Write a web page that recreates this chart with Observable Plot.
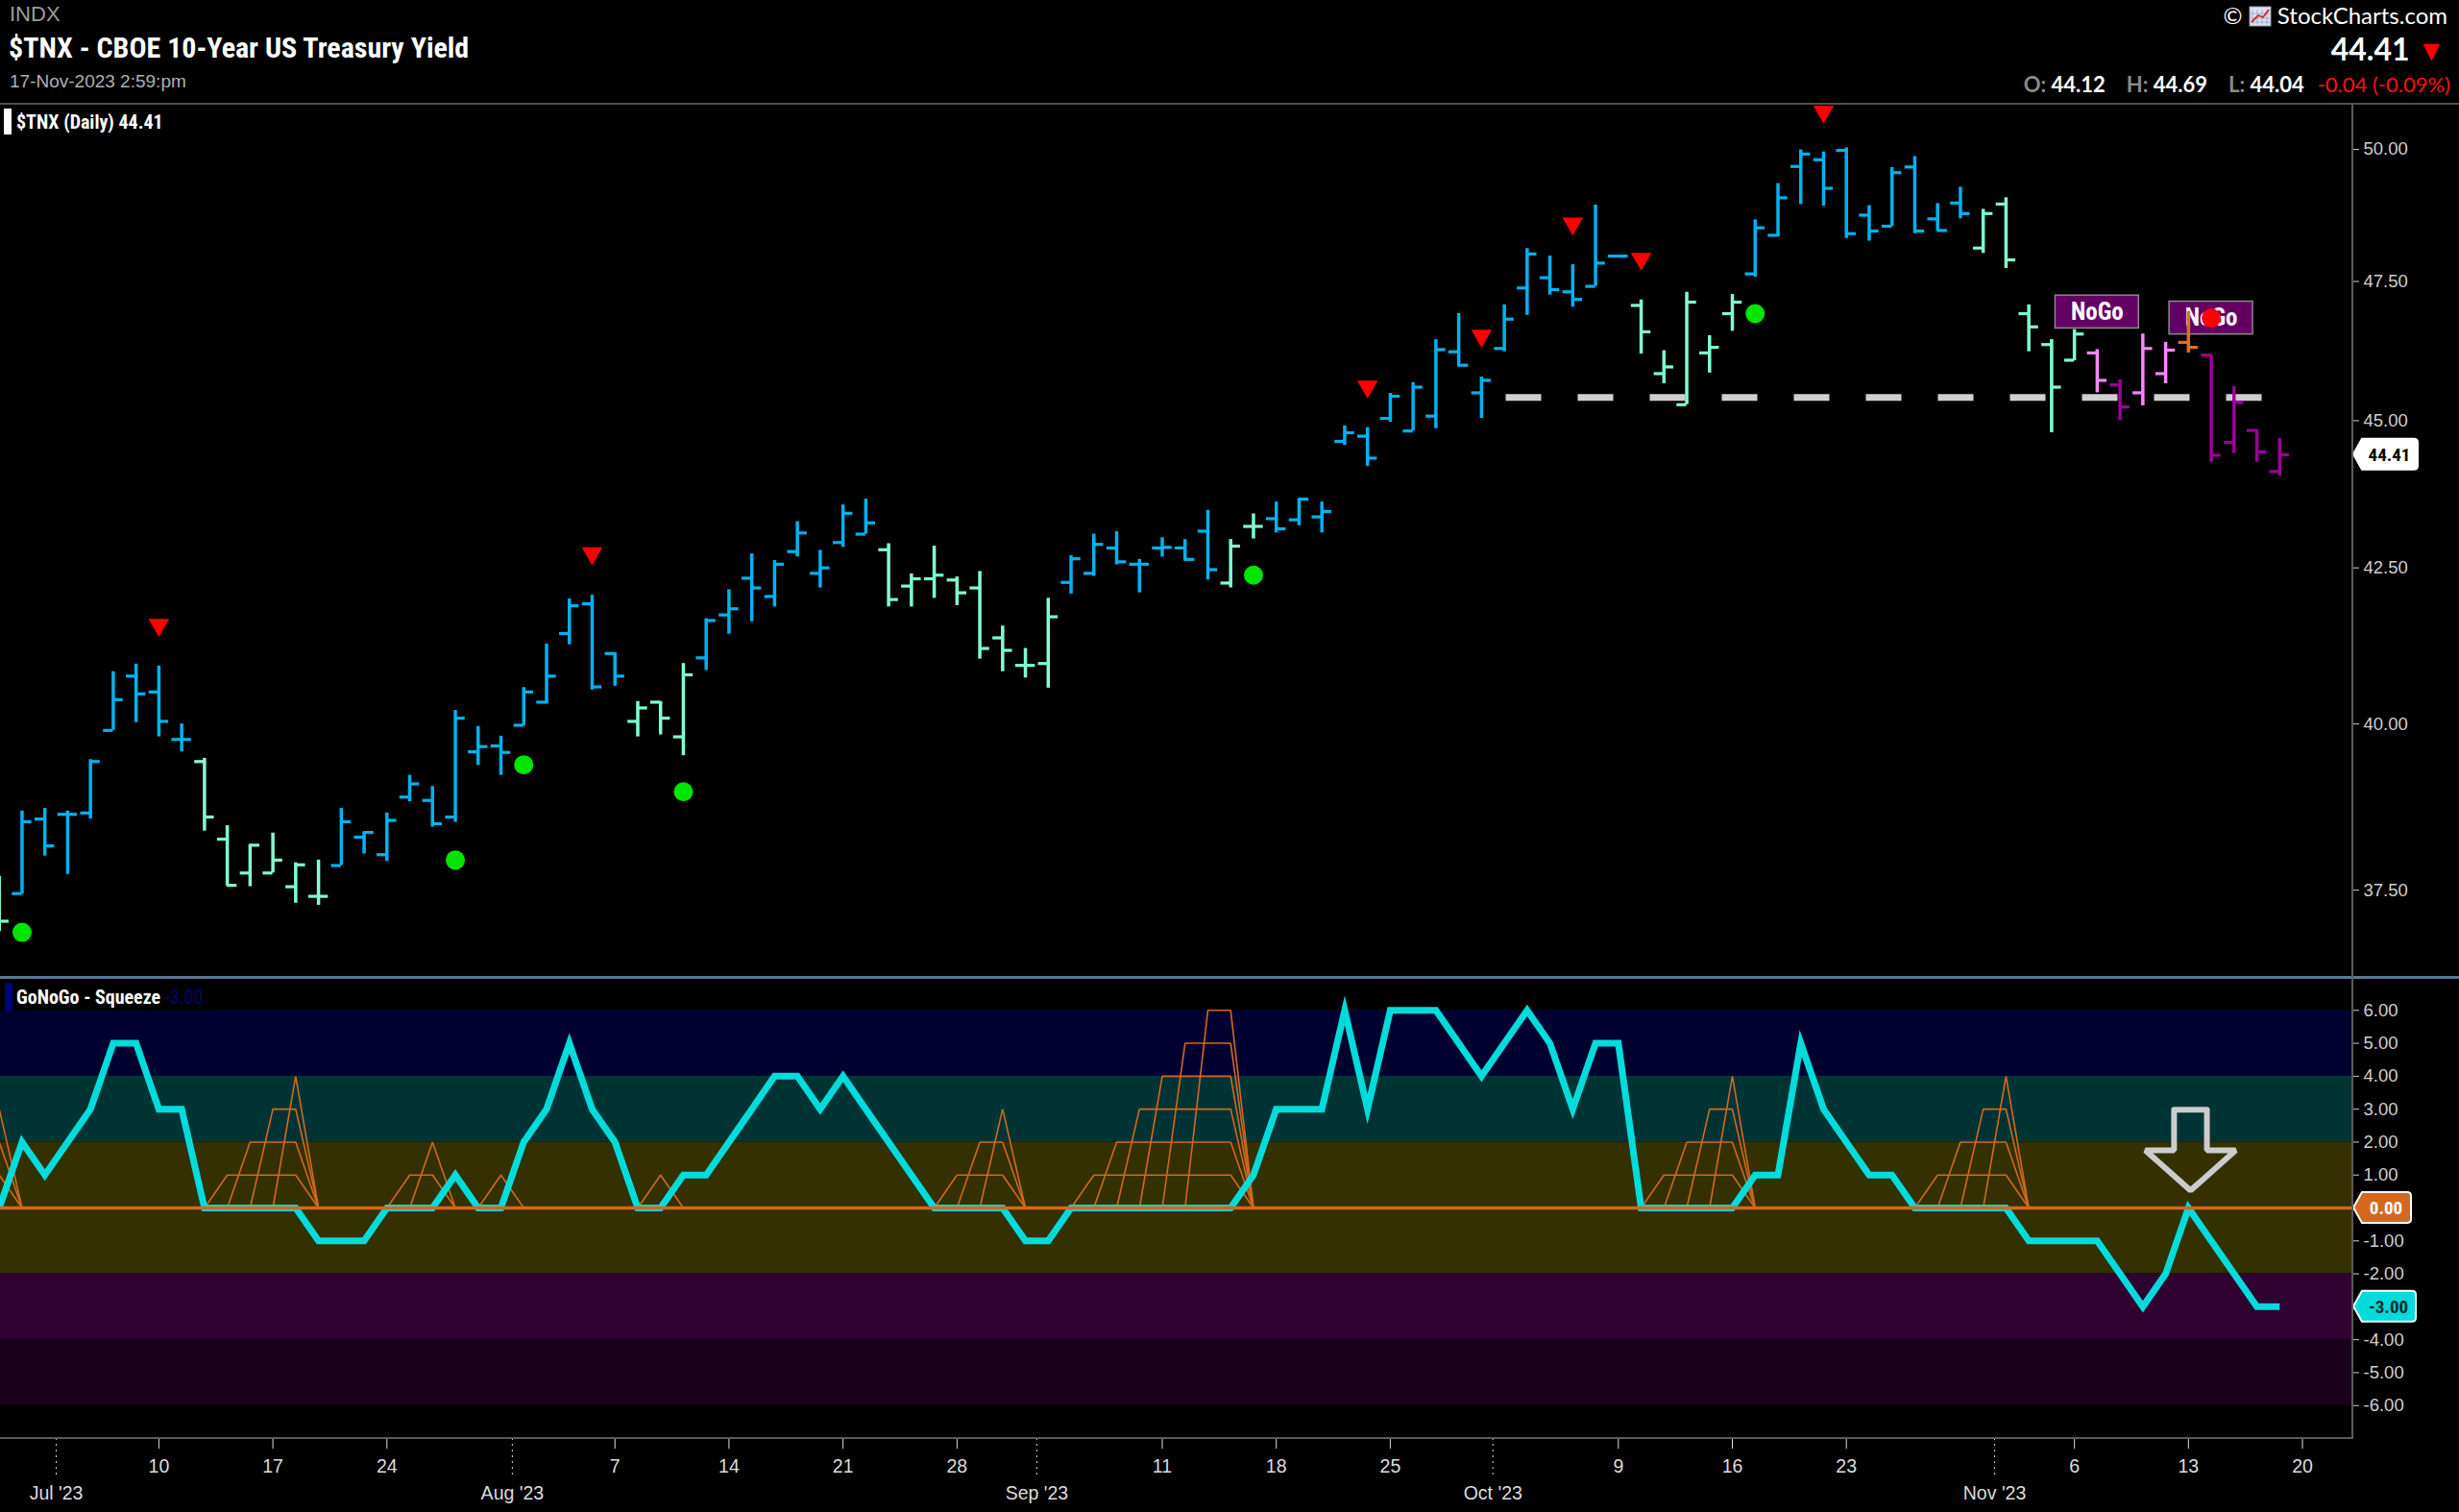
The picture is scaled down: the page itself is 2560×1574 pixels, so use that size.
<!DOCTYPE html>
<html><head><meta charset="utf-8">
<script src="https://cdn.jsdelivr.net/npm/d3@7"></script>
<script src="https://cdn.jsdelivr.net/npm/@observablehq/plot@0.6"></script>
<style>
html,body{margin:0;padding:0;background:#000;}
#wrap{position:relative;width:2560px;height:1574px;overflow:hidden;background:#000;font-family:"Liberation Sans",Arial,sans-serif;}
.abs{position:absolute;white-space:nowrap;line-height:1;}
.narrow{font-family:"Liberation Sans Narrow","Roboto Condensed","DejaVu Sans Condensed","Liberation Sans",sans-serif;}
.lato{font-family:Lato,"Liberation Sans",sans-serif;}
#price,#squeeze{position:absolute;left:0;}
#price{top:108px;} #squeeze{top:1017px;}
svg{display:block;}
.grp{margin-left:22px;}
.lbl{color:#8a8a8a;}
</style>
</head><body>
<div id="wrap">
  <div class="abs" style="left:10px;top:4px;font-size:22px;color:#9c9c9c;">INDX</div>
  <div class="abs narrow" style="left:9px;top:35px;font-size:30px;font-weight:bold;color:#fff;">$TNX - CBOE 10-Year US Treasury Yield</div>
  <div class="abs" style="left:10px;top:75px;font-size:19px;color:#b0b0b0;">17-Nov-2023 2:59:pm</div>
  <div class="abs lato" style="right:12px;top:4px;font-size:24px;color:#fff;">©&nbsp;<svg width="24" height="22" style="display:inline-block;vertical-align:-3px" viewBox="0 0 24 22"><rect x="1" y="1" width="22" height="20" fill="#dfe3ee" stroke="#8899bb"/><path d="M4 4V19M9 4V19M14 4V19M19 4V19M2 8H22M2 13H22M2 17H22" stroke="#8fa3c7" stroke-width="0.8"/><path d="M3 17 L10 10 L15 12 L21 4" stroke="#d22" stroke-width="1.8" fill="none"/></svg>&nbsp;StockCharts.com</div>
  <div class="abs lato" style="right:14px;top:35px;font-size:32px;font-weight:bold;color:#fff;">44.41 <span style="color:#ff0000;font-size:30px;">▼</span></div>
  <div class="abs lato" style="right:9px;top:77px;font-size:22px;font-weight:bold;color:#fff;">
    <span class="lbl">O:</span> 44.12<span class="grp lbl">H:</span> 44.69<span class="grp lbl">L:</span> 44.04<span class="grp" style="color:#ff1010;font-weight:normal;margin-left:14px">-0.04 (-0.09%)</span>
  </div>
  <div id="price"></div>
  <div id="squeeze"></div>
  <div class="abs" style="left:0;top:107px;width:2560px;height:2px;background:#4e4e4e;"></div>
  <div class="abs" style="left:0;top:1016px;width:2560px;height:3px;background:#5a7896;"></div>
  <div class="abs" style="left:0;top:1496px;width:2449px;height:2px;background:#5a5a5a;"></div>
  <div class="abs" style="left:2448px;top:108px;width:2px;height:1390px;background:#5a5a5a;"></div>
  <div class="abs" style="left:4px;top:113px;width:8px;height:27px;background:#fff;"></div>
  <div class="abs narrow" style="left:17px;top:117px;font-size:20px;font-weight:bold;color:#fff;">$TNX (Daily) 44.41</div>
  <div class="abs" style="left:0;top:1019px;width:218px;height:33px;background:#000;"></div>
  <div class="abs" style="left:5px;top:1023px;width:8px;height:29px;background:#00007a;"></div>
  <div class="abs narrow" style="left:17px;top:1028px;font-size:20px;color:#fff;"><b>GoNoGo - Squeeze</b> <span style="color:#00007a">-3.00</span></div>
</div>
<script>
// ---------- DATA ----------
const dates = [
 "Jun 28","Jun 29","Jun 30","Jul 3","Jul 5","Jul 6","Jul 7",
 "Jul 10","Jul 11","Jul 12","Jul 13","Jul 14","Jul 17","Jul 18","Jul 19","Jul 20","Jul 21",
 "Jul 24","Jul 25","Jul 26","Jul 27","Jul 28","Jul 31","Aug 1","Aug 2","Aug 3","Aug 4",
 "Aug 7","Aug 8","Aug 9","Aug 10","Aug 11","Aug 14","Aug 15","Aug 16","Aug 17","Aug 18",
 "Aug 21","Aug 22","Aug 23","Aug 24","Aug 25","Aug 28","Aug 29","Aug 30","Aug 31","Sep 1",
 "Sep 5","Sep 6","Sep 7","Sep 8","Sep 11","Sep 12","Sep 13","Sep 14","Sep 15","Sep 18",
 "Sep 19","Sep 20","Sep 21","Sep 22","Sep 25","Sep 26","Sep 27","Sep 28","Sep 29","Oct 2",
 "Oct 3","Oct 4","Oct 5","Oct 6","Oct 9","Oct 10","Oct 11","Oct 12","Oct 13","Oct 16",
 "Oct 17","Oct 18","Oct 19","Oct 20","Oct 23","Oct 24","Oct 25","Oct 26","Oct 27","Oct 30",
 "Oct 31","Nov 1","Nov 2","Nov 3","Nov 6","Nov 7","Nov 8","Nov 9","Nov 10","Nov 13",
 "Nov 14","Nov 15","Nov 16","Nov 17"];
const opens = [
 37.50,37.45,38.55,38.62,38.64,39.90,40.75,
 40.50,39.76,39.42,38.25,37.75,37.75,37.55,37.41,37.86,38.28,
 38.02,38.88,38.83,38.58,39.57,39.66,39.98,40.34,41.43,41.91,
 41.11,40.04,40.34,39.80,41.04,41.73,42.33,42.03,42.77,42.41,
 42.92,43.06,42.80,42.20,42.32,42.30,42.17,41.36,40.92,40.95,
 42.26,42.41,42.83,42.56,42.83,42.83,43.11,42.25,43.19,43.32,
 43.30,43.35,44.64,44.73,45.04,44.82,45.08,46.22,45.49,46.28,
 47.38,47.57,47.31,47.41,47.97,47.06,45.83,45.28,46.20,46.91,
 47.64,48.36,49.67,49.80,49.98,48.74,48.53,49.66,48.67,48.97,
 48.12,48.95,46.91,46.35,46.07,46.20,45.63,45.49,45.83,46.39,
 46.16,44.62,44.83,44.12];
const highs = [
 37.70,38.67,38.71,38.67,39.45,40.82,40.94,
 40.91,40.00,39.47,38.45,38.17,38.34,37.90,37.94,38.71,38.36,
 38.64,39.21,39.04,40.21,39.96,39.81,40.57,41.26,41.99,42.05,
 41.12,40.35,40.35,40.95,41.67,42.14,42.73,42.62,43.27,42.79,
 43.55,43.65,42.90,42.40,42.86,42.35,42.44,41.55,41.19,42.00,
 42.70,43.06,43.10,42.64,43.00,42.97,43.46,42.97,43.40,43.60,
 43.66,43.60,44.91,44.88,45.48,45.67,46.44,46.91,45.77,47.07,
 48.11,47.97,47.81,48.93,47.97,47.16,46.24,47.30,46.51,47.26,
 48.65,49.34,49.99,49.95,50.03,48.92,49.65,49.86,48.96,49.27,
 48.85,49.07,47.07,46.44,46.62,46.26,45.72,46.54,46.39,46.95,
 46.17,45.60,44.84,44.69];
const lows = [
 36.90,37.44,38.00,37.73,38.55,39.90,40.02,
 39.80,39.57,38.37,37.56,37.55,37.75,37.31,37.28,37.86,38.03,
 37.92,38.81,38.43,38.50,39.36,39.21,39.97,40.31,41.25,40.53,
 40.59,39.80,39.83,39.51,40.84,41.42,41.62,41.86,42.68,42.17,
 42.84,43.06,41.86,41.86,42.00,41.88,41.02,40.82,40.72,40.56,
 42.07,42.36,42.55,42.09,42.68,42.61,42.30,42.17,42.98,43.08,
 43.20,43.08,44.57,44.21,44.97,44.82,44.86,45.95,45.04,46.22,
 46.88,47.25,47.03,47.41,47.97,46.18,45.65,45.28,45.84,46.59,
 47.58,48.33,48.94,48.91,48.30,48.25,48.52,48.39,48.44,48.67,
 48.02,47.74,46.22,44.79,46.06,45.49,45.00,45.26,45.65,46.20,
 44.28,44.43,44.28,44.04];
const closes = [
 37.05,38.51,38.15,38.62,39.42,40.38,40.47,
 40.04,39.76,38.58,37.57,38.16,37.94,37.87,37.41,38.51,38.35,
 38.53,39.08,38.48,40.09,39.65,39.56,40.50,40.75,41.88,40.58,
 40.75,40.25,40.09,40.77,41.64,41.83,42.17,42.56,43.08,42.50,
 43.41,43.25,41.98,42.32,42.38,42.09,41.19,41.16,40.92,41.70,
 42.65,42.89,42.60,42.56,42.84,42.64,42.47,42.86,43.19,43.15,
 43.65,43.44,44.79,44.35,45.43,45.59,46.26,45.98,45.71,46.81,
 48.01,47.35,47.17,47.84,47.97,46.58,45.95,47.12,46.30,47.12,
 48.50,49.07,49.91,49.25,48.39,48.44,49.55,48.44,48.45,48.77,
 48.77,47.90,46.67,45.59,46.54,45.71,45.24,46.28,46.25,46.30,
 44.40,45.32,44.46,44.41];
// G = Go (strong), g = weak Go, n = weak NoGo, N = NoGo, A = amber
const states = ("gGGGGGG"+"GGggggggGG"+"GGGGGGGGGG"+"GgggGGGGGG"+"GGgggggggg"+
  "GGGGGGGggG"+"GGGGGGGGGG"+"GGGGGggggg"+"GGGGGGGGGG"+"gggggnNnnA"+"NNNN").split("");
const oscillator = [
 0,2,1,2,3,5,5,
 3,3,0,0,0,0,0,-1,-1,-1,
 0,0,0,1,0,0,2,3,5,3,
 2,0,0,1,1,2,3,4,4,3,
 4,3,2,1,0,0,0,0,-1,-1,
 0,0,0,0,0,0,0,0,1,3,
 3,3,6,3,6,6,6,5,4,5,
 6,5,3,5,5,0,0,0,0,0,
 1,1,5,3,2,1,1,0,0,0,
 0,0,-1,-1,-1,-1,-2,-3,-2,0,
 -1,-2,-3,-3];
// squeeze episodes: [first zero day, last zero day] (day index)
const squeezeEpisodes = [[-3,0],[9,13],[17,19],[21,22],[28,29],[41,44],[47,54],[72,76],[84,88]];
const goDotDay = [1,20,23,30,55,77];
const goDotVal = [36.89,37.94,39.37,38.96,42.38,46.91];
const triDay = [7,26,60,65,69,72,80];
const triVal = [41.57,42.74,45.60,46.51,48.58,47.92,50.74];
const redDotDay = [97];
const redDotVal = [46.83];
const nogoDay = [92,97];
const nogoVal = [46.94,46.83];
const supportLevel = 45.41, supportFrom = 66.08, supportTo = 99.3;
const priceTicks = [37.5,40,42.5,45,47.5,50];
const squeezeTicks = [-6,-5,-4,-3,-2,-1,0,1,2,3,4,5,6];
const dayTicks = [7,12,17,27,32,37,42,51,56,61,71,76,81,91,96,101];
const dayLabels = ["10","17","24","7","14","21","28","11","18","25","9","16","23","6","13","20"];
const monthTicks = [2.5,22.5,45.5,65.5,87.5];
const monthLabels = ["Jul '23","Aug '23","Sep '23","Oct '23","Nov '23"];
const bandLo = [4,2,-2,-4,-6];
const bandHi = [6,4,2,-2,-4];
const bandColor = ["#000030","#003434","#343000","#300030","#1a001a"];
const lastClose = 44.41, lastOsc = -3;

// ---------- BUILD ----------
const stateColor = {G:"#00b2f0", g:"#80ffd2", n:"#ff84ff", N:"#9c009c", A:"#e0701e"};
const xDomain = [0.054, 103.21];
const narrow = "Liberation Sans Narrow, Roboto Condensed, DejaVu Sans Condensed, Liberation Sans, sans-serif";
const bars = dates.map((d,i)=>({i, date:d, open:opens[i], high:highs[i], low:lows[i], close:closes[i], c:stateColor[states[i]]}));
const goDots = goDotDay.map((d,k)=>({i:d, p:goDotVal[k]}));
const tris = triDay.map((d,k)=>({i:d, p:triVal[k]}));
const redDots = redDotDay.map((d,k)=>({i:d, p:redDotVal[k]}));
const nogo = nogoDay.map((d,k)=>({i:d, p:nogoVal[k]}));

const price = Plot.plot({
  width:2560, height:909, marginLeft:0, marginRight:111, marginTop:0, marginBottom:0,
  style:{background:"#000", color:"#d0d0d0", fontFamily:"Liberation Sans, Arial, sans-serif", overflow:"visible"},
  x:{domain:xDomain, axis:null},
  y:{type:"log", domain:[36.25,50.885], axis:null},
  color:{type:"identity"},
  marks:[
    Plot.axisY({anchor:"right", ticks:priceTicks, tickFormat:d=>d.toFixed(2), tickSize:6, tickPadding:5, fontSize:18.5, color:"#cfcfcf"}),
    Plot.ruleY([supportLevel], {x1:supportFrom, x2:supportTo, stroke:"#cfcfcf", strokeWidth:7, strokeDasharray:"37 38"}),
    Plot.rect(nogo, {x1:d=>d.i-1.83, x2:d=>d.i+1.83, y1:d=>d.p/1.0064, y2:d=>d.p*1.0064, fill:"#640064", stroke:"#8a8a8a", strokeWidth:1.5}),
    Plot.text(nogo, {x:"i", y:"p", text:()=> "NoGo", fill:"#fff", fontWeight:"bold", fontSize:25, fontFamily:narrow}),
    Plot.ruleX(bars, {x:"i", y1:"low", y2:"high", stroke:"c", strokeWidth:3.5}),
    Plot.ruleY(bars, {y:"open", x1:d=>d.i-0.43, x2:"i", stroke:"c", strokeWidth:3.2}),
    Plot.ruleY(bars, {y:"close", x1:"i", x2:d=>d.i+0.43, stroke:"c", strokeWidth:3.2}),
    Plot.dot(tris, {x:"i", y:"p", symbol:"triangle", r:8, rotate:180, fill:"#ff0000", stroke:"none"}),
    Plot.dot(goDots, {x:"i", y:"p", r:10, fill:"#00e400", stroke:"none"}),
    Plot.dot(redDots, {x:"i", y:"p", r:10, fill:"#ff0000", stroke:"none"})
  ]
});
document.getElementById("price").appendChild(price);

// squeeze grid lines
const gridLines = [];
squeezeEpisodes.forEach(([s,e],n)=>{
  const L = Math.min(e - s, 6);
  for (let k=1;k<=L;k++){
    const key = n+"-"+k;
    gridLines.push({key,x:s+k-1,y:0},{key,x:s+k,y:k},{key,x:e,y:k},{key,x:e+1,y:0});
  }
});
const osc = oscillator.map((v,i)=>({i, v}));
const bands = bandLo.map((lo,k)=>({lo, hi:bandHi[k], c:bandColor[k]}));
const arrowAnchor = {i:96.09, v:0};
const arrowShape = [[-0.72,2.98],[0.72,2.98],[0.72,1.75],[1.98,1.75],[0,0.53],[-1.98,1.75],[-0.72,1.75],[-0.72,2.98],[0.72,2.98]];
const arrow = arrowShape.map(([dx,dy])=>({x:arrowAnchor.i+dx, y:arrowAnchor.v+dy}));
// axis labels hidden under the value tags (0 and last value)
const squeezeLabel = d => (d === 0 || d === lastOsc) ? "" : d.toFixed(2);

const squeeze = Plot.plot({
  width:2560, height:557, marginLeft:0, marginRight:111, marginTop:0, marginBottom:77,
  style:{background:"#000", color:"#d0d0d0", fontFamily:"Liberation Sans, Arial, sans-serif", overflow:"visible"},
  x:{domain:xDomain, axis:null},
  y:{domain:[-7,7], axis:null},
  color:{type:"identity"},
  marks:[
    Plot.rect(bands, {x1:xDomain[0], x2:xDomain[1], y1:"lo", y2:"hi", fill:"c"}),
    Plot.line(gridLines, {x:"x", y:"y", z:"key", stroke:"#d2691e", strokeWidth:1.6, strokeLinejoin:"miter"}),
    Plot.line(osc, {x:"i", y:"v", stroke:"#00dcdc", strokeWidth:7, strokeLinejoin:"miter", strokeMiterlimit:10, strokeLinecap:"butt"}),
    Plot.ruleY([0], {stroke:"#d8661c", strokeWidth:3.5}),
    Plot.line(arrow, {x:"x", y:"y", stroke:"#cccccc", strokeWidth:6, strokeLinejoin:"miter", fill:"none"}),
    Plot.axisY({anchor:"right", ticks:squeezeTicks, tickFormat:squeezeLabel, tickSize:6, tickPadding:5, fontSize:18.5, color:"#cfcfcf"}),
    Plot.axisX({ticks:dayTicks, tickFormat:(d)=>dayLabels[dayTicks.indexOf(d)], tickSize:11, tickPadding:11, fontSize:19.5, color:"#dcdcdc"}),
    Plot.axisX({ticks:monthTicks, tickFormat:(d)=>monthLabels[monthTicks.indexOf(d)], tickSize:40, tickPadding:10, fontSize:19.5, color:"#dcdcdc", strokeDasharray:"2 4"})
  ]
});
document.getElementById("squeeze").appendChild(squeeze);

// value tags on the right axis
function addTag(svg, plot, value, label, fill, textFill, w){
  const y = plot.scale("y").apply(value);
  const x0 = plot.scale("x").apply(xDomain[1]);
  const h = 16;
  const g = d3.select(svg).append("g").attr("transform",`translate(${x0+1},${y})`);
  g.append("path").attr("d",`M0,0 L9,${-h} L${w-4},${-h} Q${w},${-h} ${w},${-h+4} L${w},${h-4} Q${w},${h} ${w-4},${h} L9,${h} Z`)
    .attr("fill",fill).attr("stroke","#fff").attr("stroke-width",2);
  g.append("text").attr("x",(w+8)/2).attr("dy","0.36em").attr("text-anchor","middle")
    .attr("font-family",narrow).attr("font-size",19).attr("font-weight","bold").attr("fill",textFill).text(label);
}
addTag(price, price, lastClose, lastClose.toFixed(2), "#ffffff", "#000", 67);
addTag(squeeze, squeeze, 0, "0.00", "#d2691e", "#ffffff", 60);
addTag(squeeze, squeeze, lastOsc, lastOsc.toFixed(2), "#00dcdc", "#0a2a2a", 65);
</script>
</body></html>
